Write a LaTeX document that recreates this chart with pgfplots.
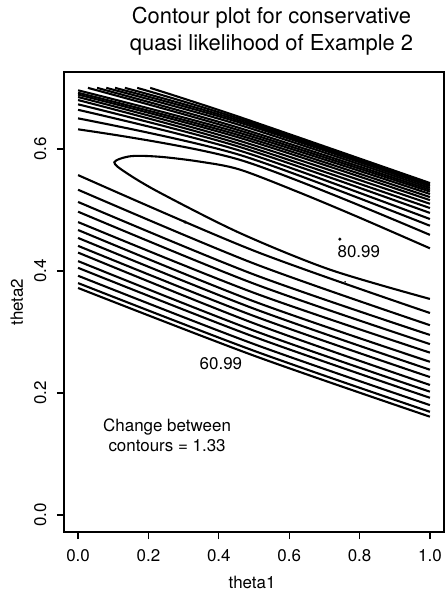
\documentclass[border=0pt]{standalone}
\usepackage{fontspec}
\setmainfont{TeX Gyre Heros}
\usepackage{pgfplots}
\pgfplotsset{compat=1.18}

\begin{document}
\begin{tikzpicture}
\begin{axis}[
    scale only axis,
    width=380bp, height=460bp,
    xmin=-0.04, xmax=1.04,
    ymin=-0.028, ymax=0.726,
    xtick={0,0.2,0.4,0.6,0.8,1.0},
    ytick={0,0.2,0.4,0.6},
    /pgf/number format/.cd, fixed, fixed zerofill, precision=1, assume math mode=true,
    /pgfplots/.cd,
    tick align=outside,
    major tick length=7bp,
    xtick pos=bottom, ytick pos=left,
    tick style={line width=1.3pt, black},
    axis line style={line width=1.4pt},
    ticklabel style={font=\fontsize{17}{17}\selectfont},
    xticklabel shift=7bp,
    yticklabel shift=7bp,
    yticklabel style={rotate=90, anchor=south},
    xlabel={theta1}, ylabel={theta2},
    label style={font=\fontsize{17}{17}\selectfont},
    xlabel style={at={(axis description cs:0.495,-0.109)}, anchor=center},
    ylabel style={at={(axis description cs:-0.124,0.5)}, anchor=center, rotate=0},
    clip=false,
    cl/.style={black, line width=2.1pt, smooth, mark=none},
]
% contours below the ridge
\addplot[cl] coordinates {(0,0.557) (0.5,0.433) (1,0.331)};
\addplot[cl] coordinates {(0,0.533) (0.5,0.412) (1,0.311)};
\addplot[cl] coordinates {(0,0.513) (0.5,0.394) (1,0.295)};
\addplot[cl] coordinates {(0,0.497) (0.5,0.379) (1,0.280)};
\addplot[cl] coordinates {(0,0.480) (0.5,0.364) (1,0.266)};
\addplot[cl] coordinates {(0,0.467) (0.5,0.350) (1,0.251)};
\addplot[cl] coordinates {(0,0.454) (0.5,0.338) (1,0.238)};
\addplot[cl] coordinates {(0,0.441) (0.5,0.326) (1,0.226)};
\addplot[cl] coordinates {(0,0.430) (0.5,0.314) (1,0.213)};
\addplot[cl] coordinates {(0,0.416) (0.5,0.302) (1,0.202)};
\addplot[cl] coordinates {(0,0.405) (0.5,0.292) (1,0.192)};
\addplot[cl] coordinates {(0,0.392) (0.5,0.280) (1,0.180)};
\addplot[cl] coordinates {(0,0.380) (0.5,0.269) (1,0.169)};
\addplot[cl] coordinates {(0,0.372) (0.5,0.261) (1,0.161)};
% innermost contour
\addplot[cl] coordinates {
    (1.0,0.437) (0.801,0.487) (0.631,0.528) (0.460,0.566) (0.347,0.579)
    (0.233,0.587) (0.150,0.588) (0.103,0.578)
    (0.139,0.560) (0.233,0.528) (0.460,0.462) (0.716,0.402)
    (1.0,0.354)};
% contours above the ridge
\addplot[cl] coordinates {(0,0.632) (0.46,0.582) (1,0.459)};
\addplot[cl] coordinates {(0,0.650) (0.46,0.590) (1,0.474)};
\addplot[cl] coordinates {(0,0.664) (0.46,0.597) (1,0.485)};
\addplot[cl] coordinates {(0,0.673) (0.46,0.603) (1,0.495)};
\addplot[cl] coordinates {(0,0.680) (0.46,0.608) (1,0.503)};
\addplot[cl] coordinates {(0,0.685) (0.46,0.613) (1,0.510)};
\addplot[cl] coordinates {(0,0.689) (0.46,0.618) (1,0.516)};
\addplot[cl] coordinates {(0,0.692) (0.46,0.622) (1,0.521)};
\addplot[cl] coordinates {(0,0.696) (0.46,0.626) (1,0.526)};
\addplot[cl] coordinates {(0.028,0.700) (0.46,0.630) (1,0.530)};
\addplot[cl] coordinates {(0.054,0.700) (0.46,0.634) (1,0.533)};
\addplot[cl] coordinates {(0.080,0.700) (0.46,0.639) (1,0.536)};
\addplot[cl] coordinates {(0.105,0.700) (0.46,0.643) (1,0.539)};
\addplot[cl] coordinates {(0.133,0.700) (0.46,0.646) (1,0.541)};
\addplot[cl] coordinates {(0.168,0.700) (0.46,0.649) (1,0.543)};
\addplot[cl] coordinates {(0.205,0.700) (0.46,0.652) (1,0.544)};
% small marks
\addplot[only marks, mark=*, mark size=1.4pt, black] coordinates {(0.304,0.480) (0.744,0.452)};
\addplot[only marks, mark=*, mark size=0.6pt, black] coordinates {(0.759,0.382)};

\node[font=\fontsize{17}{17}\selectfont] at (axis cs:0.406,0.248) {60.99};
\node[font=\fontsize{17}{17}\selectfont] at (axis cs:0.798,0.431) {80.99};
\node[font=\fontsize{17}{20}\selectfont, align=center] at (axis cs:0.253,0.131)
    {Change between\\contours = 1.33};

\node[anchor=base, font=\fontsize{22}{22}\selectfont] at (axis description cs:0.546,1.1065) {Contour plot for conservative};
\node[anchor=base, font=\fontsize{22}{22}\selectfont] at (axis description cs:0.546,1.0478) {quasi likelihood of Example 2};

\coordinate (bl) at (rel axis cs:0,0);
\coordinate (tr) at (rel axis cs:1,1);
\end{axis}
\path (bl) ++(-64bp,-64bp) rectangle ([shift={(3bp,72bp)}]tr);
\end{tikzpicture}
\end{document}
